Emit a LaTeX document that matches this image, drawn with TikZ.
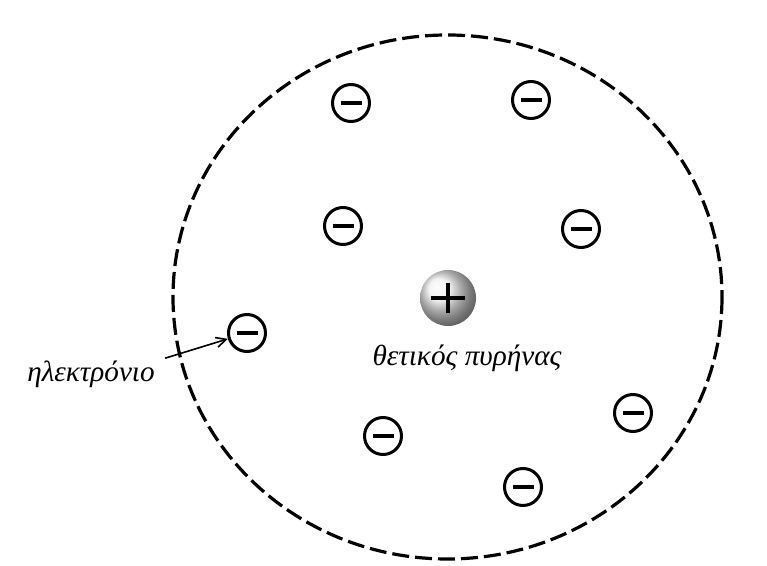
\documentclass[tikz,border=0pt]{standalone}
\usepackage{fontspec}
\setmainfont{Liberation Serif}
\usepackage{tikz}
\usetikzlibrary{arrows.meta,shadings}

\begin{document}
\begin{tikzpicture}[x=0.5pt, y=-0.5pt,
    electron/.style={draw, circle, line width=1.5pt, minimum size=18.5pt, inner sep=0pt},
    nucleus/.style={circle, minimum size=28pt, inner sep=0pt, shading=ball, ball color=gray!12},
    sign/.style={line width=2pt},
    txt/.style={font=\fontsize{14.6}{17}\selectfont\itshape, inner sep=2pt},
    arr/.style={-{Straight Barb[length=5pt,width=5pt]}, line width=0.8pt}
]
\useasboundingbox (0,0) rectangle (767,566);
\fill[white] (0,0) rectangle (767,566);

% sphere of positive charge
\draw[line width=1.6pt, dash pattern=on 8.5pt off 3pt] (447.5,297) ellipse [x radius=274.5, y radius=262];

% nucleus
\node[nucleus] (nuc) at (448,298) {};
\draw[sign] ([xshift=-8.5pt]nuc.center) -- ([xshift=8.5pt]nuc.center);
\draw[sign] ([yshift=-7.5pt]nuc.center) -- ([yshift=7.5pt]nuc.center);
\node[txt] (nuclbl) at (467,358) {θετικός πυρήνας};

% electrons
\node[electron] (e1) at (351,103) {\rule[-1pt]{10.5pt}{2pt}};
\node[electron] (e2) at (531,100) {\rule[-1pt]{10.5pt}{2pt}};
\node[electron] (e3) at (343,226) {\rule[-1pt]{10.5pt}{2pt}};
\node[electron] (e4) at (581,229) {\rule[-1pt]{10.5pt}{2pt}};
\node[electron] (e5) at (247,333) {\rule[-1pt]{10.5pt}{2pt}};
\node[electron] (e6) at (383,436) {\rule[-1pt]{10.5pt}{2pt}};
\node[electron] (e7) at (633,413) {\rule[-1pt]{10.5pt}{2pt}};
\node[electron] (e8) at (523,487) {\rule[-1pt]{10.5pt}{2pt}};

% label
\node[txt] (elbl) at (91,374) {ηλεκτρόνιο};
\draw[arr] ([xshift=3pt,yshift=-1pt]elbl.north east) -- (e5);
\end{tikzpicture}
\end{document}
